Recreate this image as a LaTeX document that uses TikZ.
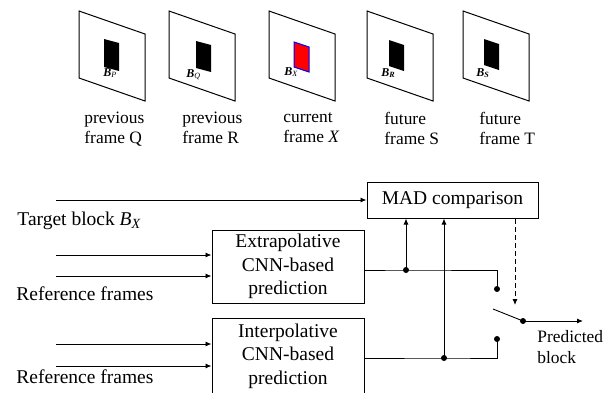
\documentclass[tikz,border=0pt]{standalone}
\usepackage{fontspec}
\setmainfont{Liberation Serif}
\usetikzlibrary{arrows.meta}
\begin{document}
\begin{tikzpicture}[x=1pt,y=-1pt,
  line width=0.9pt,
  arr/.style={-{Latex[length=6pt,width=5pt]}},
  box/.style={draw, line width=1pt, align=center,
    font=\fontsize{19.5}{23.5}\selectfont, inner sep=0pt},
  lbl/.style={font=\fontsize{19.5}{23.5}\selectfont, inner sep=0pt, anchor=base west},
  captxt/.style={font=\fontsize{17.4}{20}\selectfont, align=left, inner sep=0pt, anchor=north west},
  jdot/.style={circle, fill, inner sep=0pt, minimum size=6pt},
  frm/.style={draw, line width=1pt, fill=white},
  blabel/.style={inner sep=0pt, anchor=base west, font=\fontsize{12}{12}\selectfont}
]
\useasboundingbox (0,0) rectangle (616,392);

% frames in perspective
\foreach \L in {79,169,269,367,463}
  \draw[frm] (\L,11) -- ++(66,23) -- ++(0,67) -- ++(-66,-23) -- cycle;

% blocks inside the frames
\fill (104,39) -- ++(15,4) -- ++(0,28) -- ++(-15,-4) -- cycle;
\fill (196,41) -- ++(15,4) -- ++(0,27) -- ++(-15,-4) -- cycle;
\filldraw[fill=red, draw=blue, line width=1pt] (294,42) -- ++(15,5) -- ++(0,25) -- ++(-15,-5) -- cycle;
\fill (389,40) -- ++(15,5) -- ++(0,26) -- ++(-15,-5) -- cycle;
\fill (484,39) -- ++(15,5) -- ++(0,26) -- ++(-15,-5) -- cycle;

% block labels
\node[blabel] (bp) at (103,76) {\textbf{\textit{B}}\raisebox{-0.3ex}{\fontsize{8}{8}\selectfont\textit{P}}};
\node[blabel] (bq) at (186,77) {\textbf{\textit{B}}\raisebox{-0.3ex}{\fontsize{8}{8}\selectfont\textit{Q}}};
\node[blabel] (bx) at (284,75) {\textbf{\textit{B}}\raisebox{-0.3ex}{\fontsize{8}{8}\selectfont\textit{X}}};
\node[blabel] (br) at (381,76) {\textbf{\textit{B}}\raisebox{-0.3ex}{\fontsize{8}{8}\selectfont\textbf{\textit{R}}}};
\node[blabel] (bs) at (476,76) {\textbf{\textit{B}}\raisebox{-0.3ex}{\fontsize{8}{8}\selectfont\textbf{\textit{S}}}};

% frame captions
\node[captxt] (cq) at (84,112)  {previous\\frame Q};
\node[captxt] (cr) at (182,112) {previous\\frame R};
\node[captxt] (cx) at (283,112) {current\\frame \textit{X}};
\node[captxt] (cs) at (384,112) {future\\frame S};
\node[captxt] (ct) at (479,112) {future\\frame T};

% processing blocks
\node[box, minimum width=171pt, minimum height=36pt] (mad) at (452.5,200) {MAD comparison};
\node[box, minimum width=152pt, minimum height=73pt] (ext) at (288,266.5)
  {Extrapolative\\CNN-based\\prediction};
\node[box, minimum width=152pt, minimum height=76pt] (int) at (288,356)
  {Interpolative\\CNN-based\\prediction};

% input labels
\node[lbl] (tgt) at (17,225) {Target block \textit{B}\raisebox{-0.35ex}{\fontsize{14}{14}\selectfont\textit{X}}};
\node[lbl] (rf1) at (16,300) {Reference frames};
\node[lbl] (rf2) at (16,383) {Reference frames};

% input lines
\coordinate (t0) at (56,200);
\coordinate (e1) at (56,255);
\coordinate (e2) at (56,276);
\coordinate (i1) at (56,344);
\coordinate (i2) at (56,366);
\draw[arr] (t0) -- (mad.west);
\draw[arr] (e1) -- (e1 -| ext.west);
\draw[arr] (e2) -- (e2 -| ext.west);
\draw[arr] (i1) -- (i1 -| int.west);
\draw[arr] (i2) -- (i2 -| int.west);

% outputs, junctions and switch contacts
\coordinate (eo) at (364,270);
\coordinate (io) at (364,358);
\node[jdot] (j1) at (406,270) {};
\node[jdot] (j2) at (444,358) {};
\coordinate (ce) at (497,270);
\coordinate (ci) at (497,358);
\node[jdot] (sa) at (497,289) {};
\node[jdot] (sb) at (497,339) {};
\draw (eo) -- (j1.center) -- (ce) -- (sa.center);
\draw (io) -- (j2.center) -- (ci) -- (sb.center);
\draw[arr] (j1.center) -- (j1 |- mad.south);
\draw[arr] (j2.center) -- (j2 |- mad.south);

% switch lever and control
\coordinate (lv) at (493,309);
\node[jdot] (pv) at (523,321) {};
\coordinate (out) at (583,321);
\coordinate (ctl) at (515,305);
\draw (lv) -- (pv.center);
\draw[arr] (pv.center) -- (out);
\draw[arr, dash pattern=on 5pt off 3pt] (ctl |- mad.south) -- (ctl);

\node[captxt, font=\fontsize{17.4}{21}\selectfont] (pred) at (537,330) {Predicted\\block};
\end{tikzpicture}
\end{document}
